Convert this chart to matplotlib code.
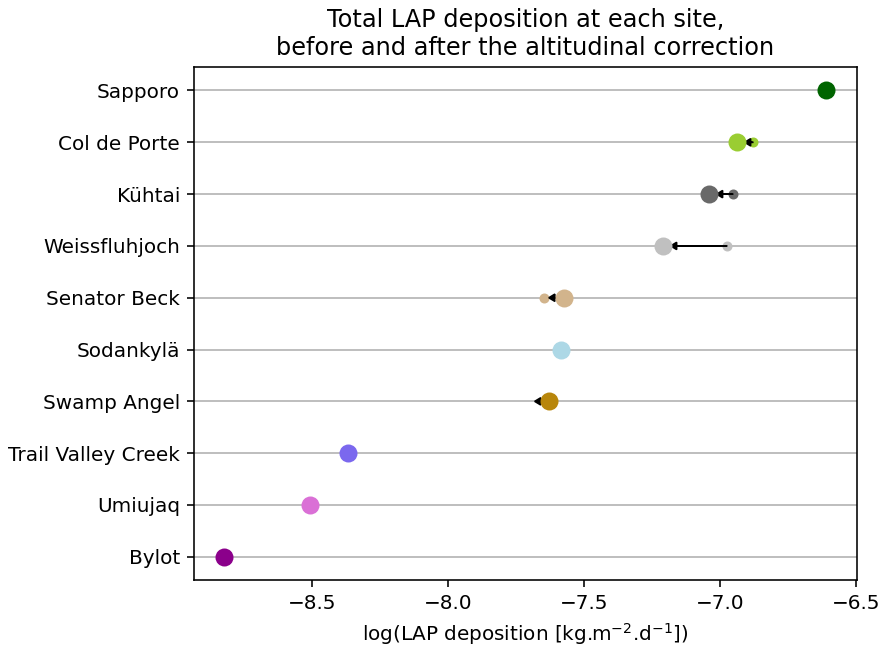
import matplotlib
matplotlib.use("Agg")
import matplotlib.pyplot as plt

# Sites from bottom to top
sites = ["Bylot", "Umiujaq", "Trail Valley Creek", "Swamp Angel", "Sodankylä",
         "Senator Beck", "Weissfluhjoch", "Kühtai", "Col de Porte", "Sapporo"]
colors = ["darkmagenta", "orchid", "mediumslateblue", "darkgoldenrod", "lightblue",
          "tan", "silver", "dimgray", "yellowgreen", "darkgreen"]

# log LAP deposition after correction (large markers)
after = [-8.825, -8.509, -8.369, -7.630, -7.586, -7.575, -7.211, -7.042, -6.939, -6.612]
# log LAP deposition before correction (small markers), None = no correction
before = [None, None, None, None, None, -7.649, -6.976, -6.954, -6.880, None]
# arrows (start, end) drawn between the two estimates
arrow_start = [None, None, None, -7.630, None, -7.575, -6.976, -6.954, -6.880, None]
arrow_end = [None, None, None, -7.682, None, -7.630, -7.182, -7.013, -6.910, None]

fig, ax = plt.subplots(figsize=(878 / 144, 646 / 144), dpi=144)

for i, site in enumerate(sites):
    if before[i] is not None:
        ax.scatter(before[i], i, s=16, color=colors[i], zorder=3)
    if arrow_start[i] is not None:
        ax.arrow(arrow_start[i], i, arrow_end[i] - arrow_start[i], 0,
                 head_width=0.14, head_length=0.022, length_includes_head=True,
                 color="black", linewidth=0.8, zorder=4)
    ax.scatter(after[i], i, s=64, color=colors[i], zorder=5)

ax.set_yticks(range(len(sites)))
ax.set_yticklabels(sites)
ax.set_xlim(-8.935, -6.497)
ax.grid(axis="y")
ax.set_axisbelow(True)
ax.set_xlabel("log(LAP deposition [kg.m$^{-2}$.d$^{-1}$])")
ax.set_title("Total LAP deposition at each site,\nbefore and after the altitudinal correction")

fig.subplots_adjust(left=0.221, right=0.976, top=0.896, bottom=0.102)
fig.savefig("out.png", dpi=144)
plt.close(fig)
